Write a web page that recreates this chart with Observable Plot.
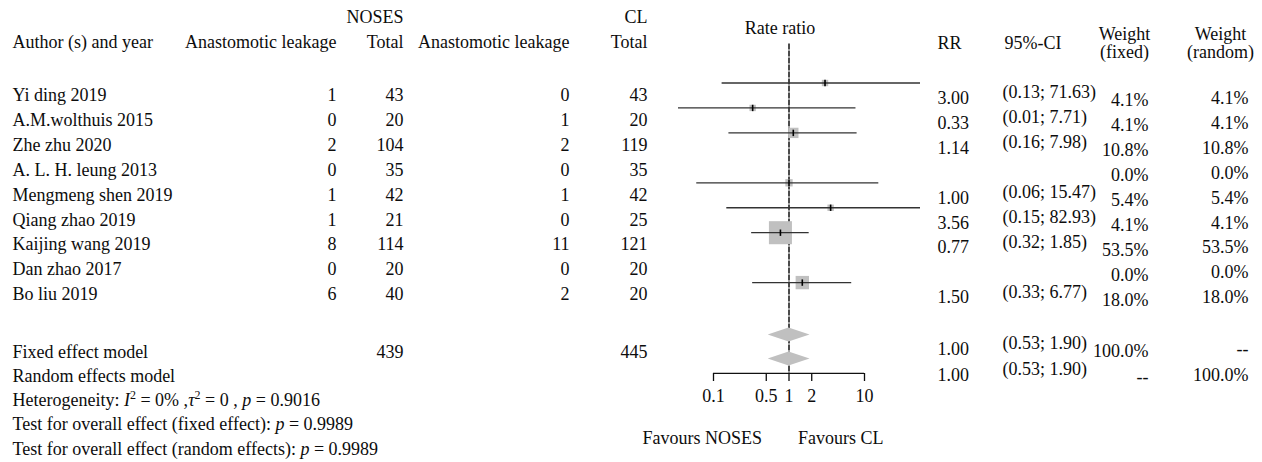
<!DOCTYPE html>
<html><head><meta charset="utf-8">
<script src="https://cdn.jsdelivr.net/npm/d3@7"></script>
<script src="https://cdn.jsdelivr.net/npm/@observablehq/plot@0.6"></script>
<style>body{margin:0;background:#fff}#chart{width:1262px;height:462px}</style>
</head><body><div id="chart"></div>
<script>
// ---------------- data ----------------
const studies = ["Yi ding 2019", "A.M.wolthuis 2015", "Zhe zhu 2020", "A. L. H. leung 2013", "Mengmeng shen 2019", "Qiang zhao 2019", "Kaijing wang 2019", "Dan zhao 2017", "Bo liu 2019"];
const nosesEvents = [1, 0, 2, 0, 1, 1, 8, 0, 6];
const nosesTotal = [43, 20, 104, 35, 42, 21, 114, 20, 40];
const clEvents = [0, 1, 2, 0, 1, 0, 11, 0, 2];
const clTotal = [43, 20, 119, 35, 42, 25, 121, 20, 20];
const rateRatio = [3.00, 0.33, 1.14, null, 1.00, 3.56, 0.77, null, 1.50];
const ciLower = [0.13, 0.01, 0.16, null, 0.06, 0.15, 0.32, null, 0.33];
const ciUpper = [71.63, 7.71, 7.98, null, 15.47, 82.93, 1.85, null, 6.77];
const weightFixed = [4.1, 4.1, 10.8, 0.0, 5.4, 4.1, 53.5, 0.0, 18.0];
const weightRandom = [4.1, 4.1, 10.8, 0.0, 5.4, 4.1, 53.5, 0.0, 18.0];

const models = ["Fixed effect model", "Random effects model"];
const modelRR = [1.00, 1.00];
const modelLower = [0.53, 0.53];
const modelUpper = [1.90, 1.90];
const modelWeightFixed = ["100.0%", "--"];
const modelWeightRandom = ["--", "100.0%"];
const pooledTotals = [439, 445];

const groupLabels = ["NOSES", "CL"];
const leftHeaders = ["Author (s) and year", "Anastomotic leakage", "Total", "Anastomotic leakage", "Total"];
const rightHeaders = ["RR", "95%-CI", "Weight\n(fixed)", "Weight\n(random)"];
const axisTitle = "Rate ratio";
const axisTicks = [0.1, 0.5, 1, 2, 10];
const favours = ["Favours NOSES", "Favours CL"];
const footnotes = [
  "Heterogeneity: I² = 0% ,τ² = 0 , p = 0.9016",
  "Test for overall effect (fixed effect): p = 0.9989",
  "Test for overall effect (random effects): p = 0.9989"
];

// ---------------- layout ----------------
const W = 1262, H = 462;
const L = {
  frameLeft: 678, frameRight: 920, frameBottom: 373,
  xRange: [713, 864],
  rowTop: 94.5, rowStep: 24.95,
  groupRow: -3.12, headRow: -2.1, rightHeadRow: -2.06,
  titleRow: -2.68, refTopRow: -2.04, axisRow: 11.16, favRow: 13.76,
  footRows: [10.3, 11.26, 12.22, 13.18, 14.18],
  rightModelRows: [10.06, 11.1], diamondRows: [10.06, 11.02],
  forestDy: -12, diamondDy: -11, diamondHalf: 0.28, maxSquareR: 13,
  leftX: [12, 336, 403, 569, 647],
  rr: {x: 937, dy: 3}, ci: {x: 1002, dy: -2.5}, wf: {x: 1148, dy: 5.5}, wr: {x: 1248, dy: 3},
  ciHeadX: 1004, wfHeadX: 1124, wrHeadX: 1220
};

// ---------------- derived tables ----------------
const rows = studies.map((s, i) => ({
  row: i, study: s, nE: nosesEvents[i], nT: nosesTotal[i], cE: clEvents[i], cT: clTotal[i],
  rr: rateRatio[i], lo: ciLower[i], hi: ciUpper[i], wf: weightFixed[i], wr: weightRandom[i]
}));
const forest = rows.filter(d => d.rr != null);
const modelRows = models.map((m, i) => ({
  m, rr: modelRR[i], lo: modelLower[i], hi: modelUpper[i],
  wf: modelWeightFixed[i], wr: modelWeightRandom[i],
  rowR: L.rightModelRows[i], rowD: L.diamondRows[i], rowL: L.footRows[i]
}));
const diamondPts = modelRows.flatMap(d => [
  {m: d.m, x: d.lo, row: d.rowD, h: 0},
  {m: d.m, x: d.rr, row: d.rowD, h: L.diamondHalf},
  {m: d.m, x: d.hi, row: d.rowD, h: 0}
]);
const fmt2 = d3.format(".2f"), fmtW = d => d3.format(".1f")(d) + "%";
const INK = "#0d0d0d";

// helpers: table text positioned relative to the frame's left edge
function col(data, y, text, xPx, anchor, dy = 0, extra = {}) {
  return Plot.text(data, {y, text, frameAnchor: "left", dx: xPx - L.frameLeft, dy, textAnchor: anchor, fill: INK, ...extra});
}
function label(t, row, xPx, anchor, extra = {}) {
  return col([t], () => row, d => d, xPx, anchor, 0, extra);
}

const marks = [];
// left header
marks.push(label(groupLabels[0], L.groupRow, L.leftX[2], "end"));
marks.push(label(groupLabels[1], L.groupRow, L.leftX[4], "end"));
leftHeaders.forEach((h, i) => marks.push(label(h, L.headRow, L.leftX[i], i === 0 ? "start" : "end")));
// left body
marks.push(col(rows, "row", "study", L.leftX[0], "start"));
marks.push(col(rows, "row", "nE", L.leftX[1], "end"));
marks.push(col(rows, "row", "nT", L.leftX[2], "end"));
marks.push(col(rows, "row", "cE", L.leftX[3], "end"));
marks.push(col(rows, "row", "cT", L.leftX[4], "end"));
// left footer
marks.push(col(modelRows, "rowL", "m", L.leftX[0], "start"));
marks.push(label(String(pooledTotals[0]), L.footRows[0], L.leftX[2], "end"));
marks.push(label(String(pooledTotals[1]), L.footRows[0], L.leftX[4], "end"));
marks.push(col(footnotes.map((t, i) => ({t, row: L.footRows[i + 2]})), "row", "t", L.leftX[0], "start"));

// right header
marks.push(label(rightHeaders[0], L.rightHeadRow, L.rr.x, "start"));
marks.push(label(rightHeaders[1], L.rightHeadRow, L.ciHeadX, "start"));
marks.push(label(rightHeaders[2], L.rightHeadRow, L.wfHeadX, "middle", {lineHeight: 1.0}));
marks.push(label(rightHeaders[3], L.rightHeadRow, L.wrHeadX, "middle", {lineHeight: 1.0}));
// right body
marks.push(col(forest, "row", d => fmt2(d.rr), L.rr.x, "start", L.rr.dy));
marks.push(col(forest, "row", d => `(${fmt2(d.lo)}; ${fmt2(d.hi)})`, L.ci.x, "start", L.ci.dy));
marks.push(col(rows, "row", d => fmtW(d.wf), L.wf.x, "end", L.wf.dy));
marks.push(col(rows, "row", d => fmtW(d.wr), L.wr.x, "end", L.wr.dy));
// right models
marks.push(col(modelRows, "rowR", d => fmt2(d.rr), L.rr.x, "start", L.rr.dy));
marks.push(col(modelRows, "rowR", d => `(${fmt2(d.lo)}; ${fmt2(d.hi)})`, L.ci.x, "start", L.ci.dy));
marks.push(col(modelRows, "rowR", "wf", L.wf.x, "end", L.wf.dy));
marks.push(col(modelRows, "rowR", "wr", L.wr.x, "end", L.wr.dy));

// forest plot
const vbar = {draw(ctx) { ctx.moveTo(0, -3.2); ctx.lineTo(0, 3.2); }};
marks.push(Plot.ruleX([1], {y1: L.refTopRow, y2: L.axisRow, stroke: "#111", strokeWidth: 1.5, strokeDasharray: "6,1"}));
marks.push(Plot.dot(forest, {x: "rr", y: "row", dy: L.forestDy, r: "wf", symbol: "square", fill: "#c0c0c0"}));
marks.push(Plot.ruleY(forest, {y: "row", x1: "lo", x2: "hi", dy: L.forestDy, stroke: "#333", strokeWidth: 1.3, clip: true}));
marks.push(Plot.dot(forest, {x: "rr", y: "row", dy: L.forestDy, r: 3, symbol: vbar, stroke: "#000", strokeWidth: 1.6, fill: "none"}));
marks.push(Plot.areaY(diamondPts, {x: "x", y1: d => d.row - d.h, y2: d => d.row + d.h, z: "m", fill: "#c0c0c0", dy: L.diamondDy}));
marks.push(Plot.ruleY([L.axisRow], {x1: axisTicks[0], x2: axisTicks[axisTicks.length - 1], stroke: "#111", strokeWidth: 1.3}));
marks.push(Plot.axisX({anchor: "bottom", ticks: axisTicks, tickFormat: d => String(d), tickSize: 8, tickPadding: 8, fontSize: 18, strokeWidth: 1.3, label: null, fill: INK}));
marks.push(Plot.text([axisTitle], {x: 1, y: () => L.titleRow, text: d => d, dx: -9, fill: INK}));
marks.push(Plot.text([favours[0]], {x: 1, y: () => L.favRow, text: d => d, dx: -27, textAnchor: "end", fill: INK}));
marks.push(Plot.text([favours[1]], {x: 1, y: () => L.favRow, text: d => d, dx: 9, textAnchor: "start", fill: INK}));

const chart = Plot.plot({
  width: W, height: H,
  marginLeft: L.frameLeft, marginRight: W - L.frameRight, marginTop: 0, marginBottom: H - L.frameBottom,
  style: {fontFamily: "'Liberation Serif', 'Times New Roman', serif", fontSize: "18px", background: "#fff", color: INK, overflow: "visible"},
  x: {type: "log", domain: [0.1, 10], range: L.xRange},
  y: {domain: [0, 1], range: [L.rowTop, L.rowTop + L.rowStep], axis: null},
  r: {type: "sqrt", domain: [0, d3.max(weightFixed)], range: [0, L.maxSquareR]},
  marks
});
document.getElementById("chart").append(chart);

// italicise the statistical symbols and raise the squares in the footnotes
const SVGNS = "http://www.w3.org/2000/svg";
const footSet = new Set(footnotes);
Array.from(chart.querySelectorAll("text")).filter(t => footSet.has(t.textContent)).forEach(t => {
  const s = t.textContent;
  while (t.firstChild) t.removeChild(t.firstChild);
  let lower = false;
  s.split(/(I(?=²)|τ|p(?= =)|²)/).forEach(part => {
    if (!part) return;
    const ts = document.createElementNS(SVGNS, "tspan");
    if (part === "²") {
      ts.textContent = "2";
      ts.setAttribute("font-size", "12");
      ts.setAttribute("dy", "-7");
      lower = true;
    } else {
      ts.textContent = part;
      if (lower) { ts.setAttribute("dy", "7"); lower = false; }
      if (/^(I|τ|p)$/.test(part)) ts.setAttribute("font-style", "italic");
    }
    t.appendChild(ts);
  });
});
</script></body></html>
